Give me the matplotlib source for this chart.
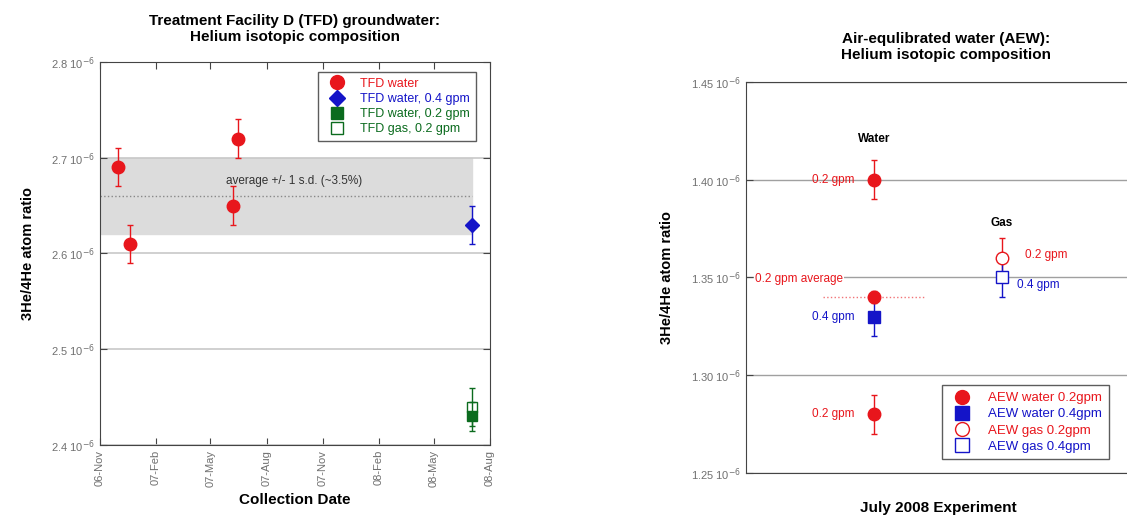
import datetime as dt
import matplotlib
matplotlib.use('Agg')
import matplotlib.pyplot as plt
import matplotlib.dates as mdates
from matplotlib.lines import Line2D
from matplotlib.ticker import FuncFormatter, MultipleLocator

plt.rcParams['font.family'] = ['Liberation Sans', 'DejaVu Sans']

# left panel: TFD groundwater
tfd_dates = [dt.date(2006, 11, 30), dt.date(2006, 12, 21), dt.date(2007, 6, 7), dt.date(2007, 6, 15)]
tfd_water = [2.69e-6, 2.61e-6, 2.65e-6, 2.72e-6]
tfd_water_err = [0.02e-6, 0.02e-6, 0.02e-6, 0.02e-6]
d_late = [dt.date(2008, 7, 2)]
tfd_w04 = [2.63e-6]
tfd_w04_err = [0.02e-6]
tfd_w02 = [2.43e-6]
tfd_w02_err = [0.015e-6]
tfd_g02 = [2.44e-6]
tfd_g02_err = [0.02e-6]
band_mean = 2.66e-6
band_lo, band_hi = 2.62e-6, 2.70e-6

# right panel: AEW
cats = ['Water', 'Gas']
aew_w02 = [1.40e-6, 1.28e-6]
aew_w02_err = [0.01e-6, 0.01e-6]
aew_w02_avg = 1.34e-6
aew_w02_avg_err = 0.003e-6
aew_w04 = 1.33e-6
aew_w04_err = 0.01e-6
aew_g02 = 1.36e-6
aew_g02_err = 0.01e-6
aew_g04 = 1.35e-6
aew_g04_err = 0.01e-6

RED = '#e8161c'
BLUE = '#1414c8'
GREEN = '#0b6b1e'
TICKC = '#707070'
SPINE = '#444444'


def sci_fmt(dec):
    return FuncFormatter(lambda v, p: f"{v*1e6:.{dec}f} 10$^{{-6}}$")


def mk(marker, color, ms, face=None):
    return Line2D([], [], ls='none', marker=marker, color=color, ms=ms,
                  mfc=face if face else color)


fig = plt.figure(figsize=(11.27, 5.2), dpi=100)

# ---- left panel
ax1 = fig.add_axes([0.0887, 0.1442, 0.346, 0.7366])
ax1.axhspan(band_lo, band_hi, xmax=0.955, color='#dcdcdc', zorder=0)
ax1.plot([dt.date(2006, 11, 1), dt.date(2008, 7, 3)], [band_mean, band_mean],
         color='#888888', ls=':', lw=1, zorder=1)
ax1.text(dt.date(2007, 9, 15), 2.676e-6, 'average +/- 1 s.d. (~3.5%)', fontsize=8.5,
         color='#333333', ha='center', va='center')
ax1.errorbar(tfd_dates, tfd_water, yerr=tfd_water_err, fmt='o', color=RED, ms=9,
             capsize=2, elinewidth=1, zorder=5)
ax1.errorbar(d_late, tfd_w04, yerr=tfd_w04_err, fmt='D', color=BLUE, ms=7.5,
             capsize=2, elinewidth=1, zorder=5)
ax1.errorbar(d_late, tfd_w02, yerr=tfd_w02_err, fmt='s', color=GREEN, ms=7.5,
             capsize=2, elinewidth=1, zorder=5)
ax1.errorbar(d_late, tfd_g02, yerr=tfd_g02_err, fmt='s', color=GREEN, mfc='white', ms=7.5,
             capsize=2, elinewidth=1, zorder=4)

ax1.set_xlim(dt.date(2006, 11, 1), dt.date(2008, 8, 1))
ax1.set_ylim(2.4e-6, 2.8e-6)
ax1.xaxis.set_major_locator(mdates.MonthLocator(bymonth=[2, 5, 8, 11]))
ax1.xaxis.set_major_formatter(mdates.DateFormatter('%y-%b'))
ax1.yaxis.set_major_locator(MultipleLocator(0.1e-6))
ax1.yaxis.set_major_formatter(sci_fmt(1))
ax1.grid(axis='y', color='#c8c8c8', lw=1.2, zorder=0)
ax1.set_axisbelow(True)
ax1.tick_params(axis='x', rotation=90)
ax1.tick_params(direction='in', top=True, right=True, length=5, labelsize=8,
                labelcolor=TICKC, color=SPINE)
ax1.set_xlabel('Collection Date', fontsize=11, fontweight='bold')
ax1.set_ylabel('3He/4He atom ratio', fontsize=10.5, fontweight='bold', labelpad=12)
ax1.set_title('Treatment Facility D (TFD) groundwater:\nHelium isotopic composition',
              fontsize=11, fontweight='bold', pad=15)
for s in ax1.spines.values():
    s.set_color(SPINE)
h1 = [mk('o', RED, 10), mk('D', BLUE, 8), mk('s', GREEN, 9), mk('s', GREEN, 9, 'white')]
l1 = ['TFD water', 'TFD water, 0.4 gpm', 'TFD water, 0.2 gpm', 'TFD gas, 0.2 gpm']
leg1 = ax1.legend(h1, l1, loc='upper right', bbox_to_anchor=(0.965, 0.975), fontsize=9,
                  frameon=True, fancybox=False, edgecolor='#333333',
                  labelcolor=[RED, BLUE, GREEN, GREEN], handletextpad=0.9,
                  labelspacing=0.25, borderpad=0.5, borderaxespad=0)
leg1.get_frame().set_linewidth(1)

# ---- right panel
ax2 = fig.add_axes([0.662, 0.0904, 0.3407, 0.7519])
ax2.plot([0.6, 1.4], [aew_w02_avg, aew_w02_avg], ls=':', color=RED, lw=1, alpha=0.6)
ax2.errorbar([1, 1], aew_w02, yerr=aew_w02_err, fmt='o', color=RED, ms=9,
             capsize=2, elinewidth=1, zorder=5)
ax2.errorbar([1], [aew_w02_avg], yerr=[aew_w02_avg_err], fmt='o', color=RED, ms=9,
             capsize=2, elinewidth=1, zorder=6)
ax2.errorbar([1], [aew_w04], yerr=[aew_w04_err], fmt='s', color=BLUE, ms=9,
             capsize=2, elinewidth=1, zorder=5)
ax2.errorbar([2], [aew_g02], yerr=[aew_g02_err], fmt='o', color=RED, mfc='white', ms=9,
             capsize=2, elinewidth=1, zorder=5)
ax2.errorbar([2], [aew_g04], yerr=[aew_g04_err], fmt='s', color=BLUE, mfc='white', ms=9,
             capsize=2, elinewidth=1, zorder=5)

ax2.text(1, 1.421e-6, cats[0], ha='center', va='center', fontsize=8.5, fontweight='bold')
ax2.text(2, 1.378e-6, cats[1], ha='center', va='center', fontsize=8.5, fontweight='bold')
ax2.text(0.85, 1.40e-6, '0.2 gpm', color=RED, ha='right', va='center', fontsize=8.5)
ax2.text(0.85, 1.28e-6, '0.2 gpm', color=RED, ha='right', va='center', fontsize=8.5)
ax2.text(0.85, 1.33e-6, '0.4 gpm', color=BLUE, ha='right', va='center', fontsize=8.5)
ax2.text(0.07, 1.349e-6, '0.2 gpm average', color=RED, ha='left', va='center', fontsize=8.5,
         bbox=dict(facecolor='white', edgecolor='none', pad=0.5))
ax2.text(2.18, 1.3615e-6, '0.2 gpm', color=RED, ha='left', va='center', fontsize=8.5)
ax2.text(2.12, 1.346e-6, '0.4 gpm', color=BLUE, ha='left', va='center', fontsize=8.5)

ax2.set_xlim(0, 3)
ax2.set_ylim(1.25e-6, 1.45e-6)
ax2.set_xticks([])
ax2.yaxis.set_major_locator(MultipleLocator(0.05e-6))
ax2.yaxis.set_major_formatter(sci_fmt(2))
ax2.grid(axis='y', color='#a0a0a0', lw=1, zorder=0)
ax2.set_axisbelow(True)
ax2.tick_params(direction='in', length=5, labelsize=8, labelcolor=TICKC, color=SPINE)
ax2.set_xlabel('July 2008 Experiment', fontsize=11, fontweight='bold', labelpad=20)
ax2.set_ylabel('3He/4He atom ratio', fontsize=10.5, fontweight='bold', labelpad=12)
ax2.text(0.52, 1.09, 'Air-equlibrated water (AEW):\nHelium isotopic composition',
         transform=ax2.transAxes, ha='center', va='center', fontsize=11, fontweight='bold')
for s in ax2.spines.values():
    s.set_color(SPINE)
h2 = [mk('o', RED, 10), mk('s', BLUE, 10), mk('o', RED, 10, 'white'), mk('s', BLUE, 10, 'white')]
l2 = ['AEW water 0.2gpm', 'AEW water 0.4gpm', 'AEW gas 0.2gpm', 'AEW gas 0.4gpm']
leg2 = ax2.legend(h2, l2, loc='lower right', bbox_to_anchor=(0.945, 0.035), fontsize=9.5,
                  frameon=True, fancybox=False, edgecolor='#333333',
                  labelcolor=[RED, BLUE, RED, BLUE], handletextpad=1.0,
                  labelspacing=0.3, borderpad=0.5, borderaxespad=0)
leg2.get_frame().set_linewidth(1)

fig.savefig('out.png', dpi=100)
